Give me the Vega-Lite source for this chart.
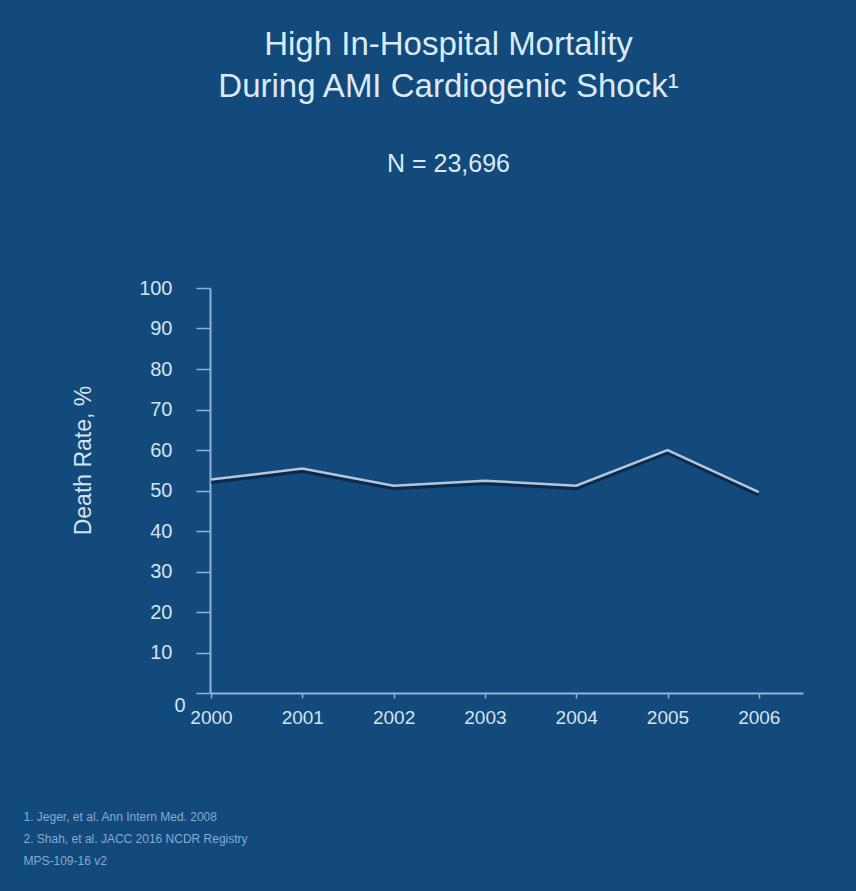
{
  "$schema": "https://vega.github.io/schema/vega-lite/v6.json",
  "width": 593,
  "height": 405,
  "autosize": "none",
  "padding": {"left": 210, "top": 288, "right": 53, "bottom": 198},
  "background": "#124a7c",
  "title": {
    "text": ["High In-Hospital Mortality", "During AMI Cardiogenic Shock¹"],
    "subtitle": "N = 23,696",
    "anchor": "middle",
    "frame": "group",
    "dx": -58,
    "offset": 101,
    "font": "Liberation Sans",
    "fontSize": 33,
    "fontWeight": "normal",
    "lineHeight": 42,
    "color": "#dce9f6",
    "subtitleFont": "Liberation Sans",
    "subtitleFontSize": 25,
    "subtitleColor": "#dce9f6",
    "subtitlePadding": 48
  },
  "data": {
    "values": [
      {"year": 2000, "rate": 52.7},
      {"year": 2001, "rate": 55.4},
      {"year": 2002, "rate": 51.2},
      {"year": 2003, "rate": 52.4},
      {"year": 2004, "rate": 51.2},
      {"year": 2005, "rate": 60.0},
      {"year": 2006, "rate": 49.6}
    ]
  },
  "encoding": {
    "x": {
      "field": "year",
      "type": "quantitative",
      "scale": {"domain": [1999.989, 2006.484], "nice": false, "zero": false},
      "axis": {
        "values": [2000, 2001, 2002, 2003, 2004, 2005, 2006],
        "format": "d",
        "grid": false,
        "domainColor": "#8db3da",
        "domainWidth": 2,
        "tickColor": "#8db3da",
        "tickSize": 5,
        "tickWidth": 1.5,
        "labelFont": "Liberation Sans",
        "labelFontSize": 19,
        "labelColor": "#d4e3f2",
        "labelPadding": 10,
        "title": ["1. Jeger, et al. Ann Intern Med. 2008", "2. Shah, et al. JACC 2016 NCDR Registry", "MPS-109-16 v2"],
        "titleFont": "Liberation Sans",
        "titleFontSize": 12,
        "titleFontWeight": "normal",
        "titleColor": "#86aad0",
        "titleLineHeight": 22,
        "titleAlign": "left",
        "titleBaseline": "alphabetic",
        "titleAnchor": "start",
        "titleX": -187,
        "titleY": 127
      }
    },
    "y": {
      "field": "rate",
      "type": "quantitative",
      "scale": {"domain": [0, 100], "nice": false},
      "axis": {
        "values": [0, 10, 20, 30, 40, 50, 60, 70, 80, 90, 100],
        "grid": false,
        "domainColor": "#8db3da",
        "domainWidth": 2,
        "tickColor": "#8db3da",
        "tickSize": 14,
        "tickWidth": 1.5,
        "labelFont": "Liberation Sans",
        "labelFontSize": 20,
        "labelColor": "#d4e3f2",
        "labelPadding": {"condition": {"test": "datum.value == 0", "value": 11}, "value": 24},
        "labelOffset": {"condition": {"test": "datum.value == 0", "value": 12}, "value": 0},
        "title": "Death Rate, %",
        "titleFont": "Liberation Sans",
        "titleFontSize": 23,
        "titleFontWeight": "normal",
        "titleColor": "#d4e3f2",
        "titleAngle": -90,
        "titleAlign": "center",
        "titleBaseline": "middle",
        "titleX": -127,
        "titleY": 172
      }
    }
  },
  "layer": [
    {"mark": {"type": "line", "stroke": "#082746", "strokeWidth": 4, "opacity": 0.85, "yOffset": 2.5}},
    {"mark": {"type": "line", "stroke": "#b6c7d9", "strokeWidth": 2.5}}
  ],
  "config": {"view": {"stroke": null}}
}
